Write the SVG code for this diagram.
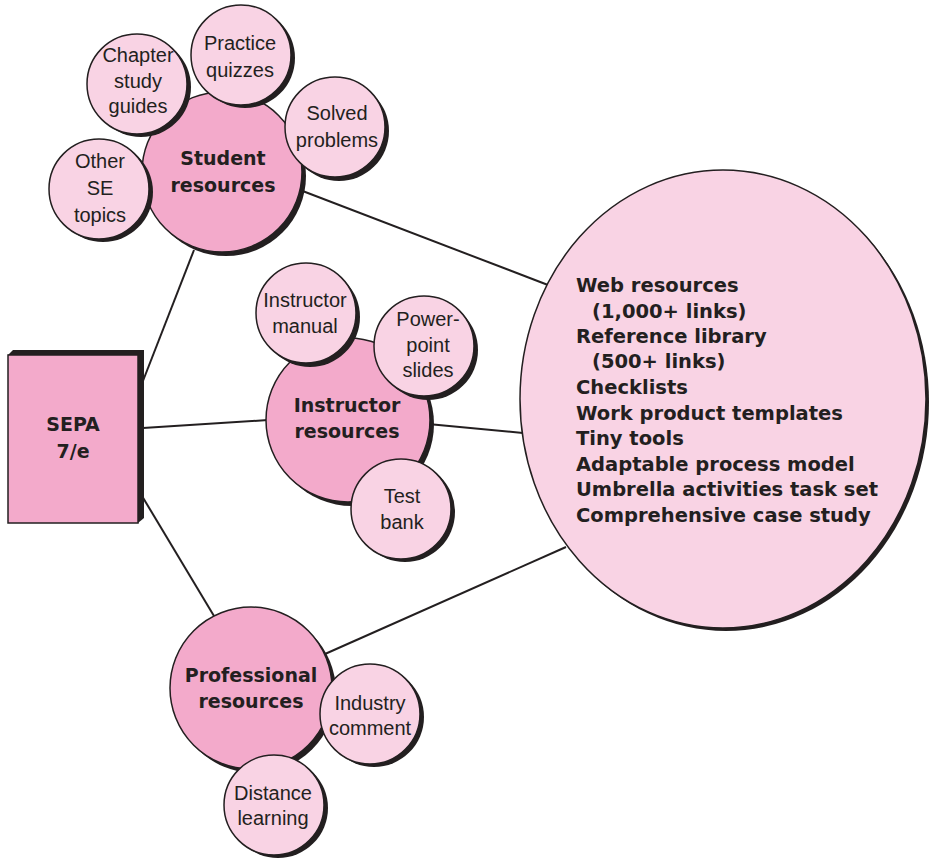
<svg xmlns="http://www.w3.org/2000/svg" width="932" height="858" viewBox="0 0 932 858">
<style>
  .bg{fill:#ffffff}
  .edge{stroke:#231f20;stroke-width:2;fill:none}
  .sh{fill:#231f20}
  .main{fill:#f3aacb;stroke:#231f20;stroke-width:1.5}
  .sub{fill:#f9d3e4;stroke:#231f20;stroke-width:1.5}
  .bl{font-family:"DejaVu Sans",sans-serif;font-weight:bold;font-size:19px;fill:#231f20;text-anchor:middle}
  .lt{font-family:"Liberation Sans",Arial,sans-serif;font-size:20px;fill:#231f20;text-anchor:middle}
  .list{font-family:"DejaVu Sans",sans-serif;font-weight:bold;font-size:19.5px;fill:#231f20}
</style>
<rect class="bg" x="0" y="0" width="932" height="858"/>

<g id="connectors">
  <line class="edge" x1="141" y1="386" x2="194" y2="250"/>
  <line class="edge" x1="143" y1="428" x2="268" y2="420"/>
  <line class="edge" x1="142" y1="496" x2="214" y2="616"/>
  <line class="edge" x1="300" y1="190" x2="548" y2="285"/>
  <line class="edge" x1="428" y1="424" x2="523" y2="433"/>
  <line class="edge" x1="325" y1="654" x2="566" y2="547"/>
</g>

<g id="sepa">
  <polygon class="sh" points="8,355 13,350 144,350 144,518 138,523"/>
  <rect class="main" x="8" y="355" width="130" height="168" stroke-width="1"/>
  <text class="bl" x="73" y="431">SEPA</text>
  <text class="bl" x="73" y="458">7/e</text>
</g>

<g id="web-resources">
  <ellipse class="sh" cx="726" cy="402" rx="203" ry="229"/>
  <ellipse class="sub" cx="723" cy="399" rx="203" ry="229"/>
  <text class="list" x="576" y="292">Web resources</text>
  <text class="list" x="592" y="318">(1,000+ links)</text>
  <text class="list" x="576" y="343">Reference library</text>
  <text class="list" x="592" y="368">(500+ links)</text>
  <text class="list" x="576" y="394">Checklists</text>
  <text class="list" x="576" y="420">Work product templates</text>
  <text class="list" x="576" y="445">Tiny tools</text>
  <text class="list" x="576" y="471">Adaptable process model</text>
  <text class="list" x="576" y="496">Umbrella activities task set</text>
  <text class="list" x="576" y="522">Comprehensive case study</text>
</g>

<g id="student-resources">
  <circle class="sh" cx="226" cy="176" r="80"/>
  <circle class="main" cx="222" cy="172" r="80"/>
  <text class="bl" x="223" y="165">Student</text>
  <text class="bl" x="223" y="192">resources</text>
</g>
<g id="chapter-study-guides">
  <circle class="sh" cx="141" cy="87" r="50"/>
  <circle class="sub" cx="137" cy="84" r="50"/>
  <text class="lt" x="138" y="62">Chapter</text>
  <text class="lt" x="138" y="88">study</text>
  <text class="lt" x="138" y="113">guides</text>
</g>
<g id="practice-quizzes">
  <circle class="sh" cx="245" cy="58" r="50"/>
  <circle class="sub" cx="241" cy="55" r="50"/>
  <text class="lt" x="240" y="50">Practice</text>
  <text class="lt" x="240" y="77">quizzes</text>
</g>
<g id="solved-problems">
  <circle class="sh" cx="339" cy="131" r="50"/>
  <circle class="sub" cx="335" cy="127" r="50"/>
  <text class="lt" x="337" y="120">Solved</text>
  <text class="lt" x="337" y="147">problems</text>
</g>
<g id="other-se-topics">
  <circle class="sh" cx="103" cy="192" r="50"/>
  <circle class="sub" cx="99" cy="189" r="50"/>
  <text class="lt" x="100" y="168">Other</text>
  <text class="lt" x="100" y="195">SE</text>
  <text class="lt" x="100" y="222">topics</text>
</g>

<g id="instructor-resources">
  <circle class="sh" cx="352" cy="424" r="82"/>
  <circle class="main" cx="348" cy="420" r="82"/>
  <text class="bl" x="347" y="412">Instructor</text>
  <text class="bl" x="347" y="438">resources</text>
</g>
<g id="instructor-manual">
  <circle class="sh" cx="310" cy="317" r="50"/>
  <circle class="sub" cx="306" cy="313" r="50"/>
  <text class="lt" x="305" y="307">Instructor</text>
  <text class="lt" x="305" y="333">manual</text>
</g>
<g id="powerpoint-slides">
  <circle class="sh" cx="428" cy="350" r="50"/>
  <circle class="sub" cx="424" cy="346" r="50"/>
  <text class="lt" x="428" y="326">Power-</text>
  <text class="lt" x="428" y="352">point</text>
  <text class="lt" x="428" y="377">slides</text>
</g>
<g id="test-bank">
  <circle class="sh" cx="405" cy="512" r="50"/>
  <circle class="sub" cx="401" cy="509" r="50"/>
  <text class="lt" x="402" y="503">Test</text>
  <text class="lt" x="402" y="529">bank</text>
</g>

<g id="professional-resources">
  <circle class="sh" cx="255" cy="692" r="81"/>
  <circle class="main" cx="251" cy="688" r="81"/>
  <text class="bl" x="251" y="682">Professional</text>
  <text class="bl" x="251" y="708">resources</text>
</g>
<g id="industry-comment">
  <circle class="sh" cx="374" cy="717" r="50"/>
  <circle class="sub" cx="370" cy="714" r="50"/>
  <text class="lt" x="370" y="710">Industry</text>
  <text class="lt" x="370" y="735">comment</text>
</g>
<g id="distance-learning">
  <circle class="sh" cx="278" cy="808" r="50"/>
  <circle class="sub" cx="274" cy="805" r="50"/>
  <text class="lt" x="273" y="800">Distance</text>
  <text class="lt" x="273" y="825">learning</text>
</g>
</svg>
